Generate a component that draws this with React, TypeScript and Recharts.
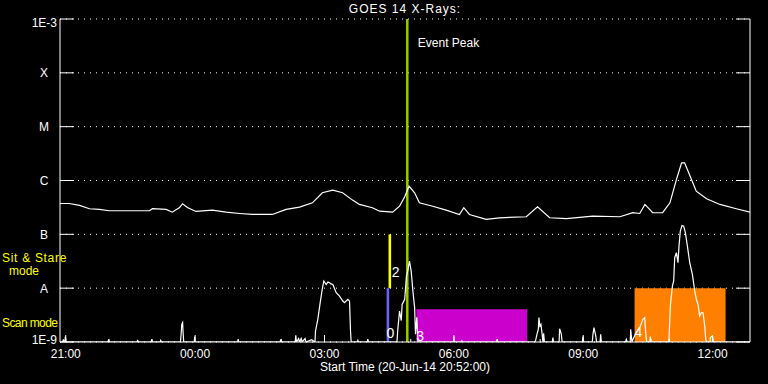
import { CartesianGrid, ComposedChart, Line, ReferenceArea, ReferenceLine, XAxis, YAxis } from 'recharts';

// time axis: hours after 21:00 on 20-Jun-14 (plot starts 20:52)
const timeDomain: [number, number] = [-8 / 60, 16 - 8 / 60];
const hourTicks = [0, 1, 2, 3, 4, 5, 6, 7, 8, 9, 10, 11, 12, 13, 14, 15];

const decadeTicks = [1e-9, 1e-8, 1e-7, 1e-6, 1e-5, 1e-4, 1e-3];
const decadeLabels = ['1E-9', 'A', 'B', 'C', 'M', 'X', '1E-3'];

// 1-8 A channel [hours, W/m^2]
const longChannel: [number, number][] = [
  [-0.133, 3.74e-7], [0.08, 3.74e-7], [0.32, 3.44e-7], [0.55, 2.99e-7], [0.78, 2.9e-7],
  [1.01, 2.74e-7], [1.4, 2.74e-7], [1.94, 2.74e-7], [2.01, 2.99e-7], [2.33, 2.9e-7],
  [2.47, 2.58e-7], [2.64, 3.16e-7], [2.71, 3.7e-7], [2.82, 3.16e-7], [3.02, 2.66e-7],
  [3.4, 2.81e-7], [3.72, 2.58e-7], [4.03, 2.44e-7], [4.33, 2.34e-7], [4.79, 2.34e-7],
  [5.11, 2.9e-7], [5.42, 3.2e-7], [5.72, 3.85e-7], [5.95, 5.92e-7], [6.19, 6.61e-7],
  [6.42, 5.92e-7], [6.65, 4.32e-7], [6.81, 3.6e-7], [7.11, 3.12e-7], [7.28, 2.69e-7],
  [7.58, 2.58e-7], [7.74, 3.33e-7], [7.86, 4.99e-7], [7.96, 7.83e-7], [8.09, 5.92e-7],
  [8.2, 3.85e-7], [8.51, 3.33e-7], [8.82, 2.81e-7], [9.13, 2.34e-7], [9.23, 3.12e-7],
  [9.36, 2.34e-7], [9.75, 1.89e-7], [10.06, 2.03e-7], [10.68, 2.12e-7], [10.94, 3.25e-7],
  [11.22, 2.03e-7], [11.61, 1.95e-7], [12.22, 2.18e-7], [12.85, 2.12e-7], [13.15, 2.52e-7],
  [13.31, 2.44e-7], [13.43, 3.59e-7], [13.61, 2.52e-7], [13.84, 2.52e-7], [14.01, 3.85e-7],
  [14.16, 1.04e-6], [14.28, 2.13e-6], [14.35, 2.13e-6], [14.51, 1.04e-6], [14.62, 6.32e-7],
  [14.86, 4.57e-7], [15.17, 3.59e-7], [15.55, 2.99e-7], [15.87, 2.58e-7],
];

// 0.5-4 A channel, mostly below 1E-9
const shortChannel: [number, number][] = [
  [-0.133, 1e-9], [-0.07, 1e-9], [-0.056, 1.12e-9], [-0.04, 1e-9], [-0.02, 1e-9], [-0.009, 1.26e-9], [0.01, 1e-9],
  [0.98, 1e-9], [0.995, 1.12e-9], [1.01, 1e-9], [1.65, 1e-9], [1.668, 1.07e-9], [1.69, 1e-9],
  [1.98, 1e-9], [1.993, 1.12e-9], [2.01, 1e-9], [2.19, 1e-9], [2.202, 1.07e-9], [2.22, 1e-9],
  [2.66, 1e-9], [2.675, 1.39e-9], [2.69, 2.13e-9], [2.71, 2.29e-9], [2.72, 1.53e-9], [2.735, 1e-9],
  [2.98, 1e-9], [2.991, 1.26e-9], [3.0, 1e-9], [3.99, 1e-9], [3.998, 1.12e-9], [4.01, 1e-9],
  [4.97, 1e-9], [4.986, 1.12e-9], [5.0, 1e-9], [5.32, 1e-9], [5.334, 1.33e-9], [5.35, 1e-9],
  [5.4, 1.16e-9], [5.42, 1e-9], [5.46, 1.16e-9], [5.48, 1e-9], [5.55, 1.16e-9], [5.57, 1e-9],
  [5.7, 1.1e-9], [5.78, 1e-9], [5.791, 1.6e-9], [5.845, 2.64e-9], [5.9, 5.38e-9], [5.947, 9.5e-9],
  [5.984, 1.36e-8], [6.039, 1.17e-8], [6.08, 1.3e-8], [6.116, 1.26e-8], [6.15, 1.2e-8], [6.193, 1.17e-8],
  [6.271, 8.26e-9], [6.348, 7.13e-9], [6.425, 5.77e-9], [6.464, 5.38e-9], [6.541, 6.19e-9], [6.58, 5.77e-9],
  [6.603, 1.6e-9], [6.619, 1e-9], [6.76, 1e-9], [6.773, 1.07e-9], [6.79, 1e-9], [6.99, 1e-9], [7.005, 1.12e-9], [7.02, 1e-9],
  [7.68, 1e-9], [7.7, 1.72e-9], [7.74, 3.76e-9], [7.78, 2.5e-9], [7.8, 5.0e-9], [7.86, 6.19e-9], [7.9, 1.67e-8],
  [7.93, 2.07e-8], [7.97, 3.18e-8], [8.01, 2.07e-8], [8.05, 8.83e-9], [8.09, 4.35e-9], [8.11, 1.39e-9],
  [8.14, 2.87e-9], [8.17, 1e-9], [8.99, 1e-9], [9.0, 1.26e-9], [9.01, 1e-9], [9.18, 1e-9], [9.186, 1.05e-9], [9.2, 1e-9],
  [9.99, 1e-9], [10.007, 1.12e-9], [10.02, 1e-9], [10.88, 1e-9], [10.896, 1.07e-9], [10.926, 1.39e-9],
  [10.958, 1.72e-9], [10.972, 2.84e-9], [10.995, 1.98e-9], [11.019, 2.13e-9], [11.042, 1.49e-9], [11.065, 1e-9],
  [11.081, 1.45e-9], [11.1, 1e-9], [11.28, 1e-9], [11.297, 1.21e-9], [11.31, 1e-9], [11.44, 1e-9],
  [11.452, 1.77e-9], [11.492, 1.39e-9], [11.51, 1e-9], [11.98, 1e-9], [11.993, 1.26e-9], [12.01, 1e-9],
  [12.21, 1e-9], [12.225, 1.39e-9], [12.248, 1.85e-9], [12.288, 1.33e-9], [12.31, 1e-9], [12.39, 1e-9],
  [12.404, 1.39e-9], [12.42, 1e-9], [12.98, 1e-9], [13.0, 1.12e-9], [13.02, 1e-9], [13.09, 1e-9],
  [13.1, 1.72e-9], [13.13, 1e-9], [13.17, 1.2e-9], [13.23, 1.49e-9], [13.309, 1.85e-9], [13.385, 2.64e-9],
  [13.425, 2.84e-9], [13.448, 1.49e-9], [13.47, 1e-9], [13.54, 1e-9], [13.557, 1.26e-9], [13.58, 1e-9],
  [13.97, 1e-9], [13.988, 1.12e-9], [14.021, 4.8e-9], [14.067, 1.09e-8], [14.097, 1.36e-8], [14.121, 3.68e-8],
  [14.16, 4.56e-8], [14.197, 2.97e-8], [14.22, 6.04e-8], [14.251, 1.15e-7], [14.29, 1.46e-7], [14.329, 1.42e-7],
  [14.369, 1.07e-7], [14.415, 6.04e-8], [14.469, 2.97e-8], [14.531, 1.8e-8], [14.585, 8.83e-9], [14.624, 6.19e-9],
  [14.661, 5.0e-9], [14.7, 3.03e-9], [14.74, 3.51e-9], [14.777, 3.5e-9], [14.817, 1.98e-9], [14.84, 1.12e-9],
  [14.86, 1e-9], [14.94, 1e-9], [14.949, 1.21e-9], [14.995, 1.29e-9], [15.02, 1e-9], [15.867, 1e-9],
];

const eventPeak = 7.92;

// observing blocks: id, start/end hours, flux bottom/top
const modeBlocks = [
  { id: '0', x1: 7.44, x2: 7.5, y1: 1e-9, y2: 1e-8 },
  { id: '2', x1: 7.485, x2: 7.545, y1: 1e-8, y2: 1e-7 },
  { id: '3', x1: 8.13, x2: 10.7, y1: 1e-9, y2: 4.05e-9 },
  { id: '4', x1: 13.19, x2: 15.3, y1: 1e-9, y2: 1e-8 },
];

const blockColors: Record<string, string> = { '0': '#6464ff', '2': '#ffff00', '3': '#cc00cc', '4': '#ff8000' };

const FONT = '"Liberation Sans", Arial, sans-serif';
const WHITE = '#ffffff';

const longData = longChannel.map(([t, f]) => ({ t, f }));
const shortData = shortChannel.map(([t, f]) => ({ t, f }));

function hourLabel(h: number) {
  const hh = (21 + h) % 24;
  return `${String(hh).padStart(2, '0')}:00`;
}

function BottomTick(props: any) {
  const { x, y, payload } = props;
  const major = payload.value % 3 === 0;
  return (
    <g>
      <line x1={x} x2={x} y1={y} y2={y - (major ? 7 : 3)} stroke={WHITE} />
      {major && (
        <text x={x} y={y + 16} textAnchor="middle" fill={WHITE} fontSize={12} fontFamily={FONT}>
          {hourLabel(payload.value)}
        </text>
      )}
    </g>
  );
}

function TopTick(props: any) {
  const { x, y, payload } = props;
  const major = payload.value % 3 === 0;
  return <line x1={x} x2={x} y1={y} y2={y + (major ? 7 : 3)} stroke={WHITE} />;
}

function LeftTick(props: any) {
  const { x, y, payload } = props;
  const i = decadeTicks.findIndex((v) => Math.abs(Math.log10(v) - Math.log10(payload.value)) < 0.01);
  const label = decadeLabels[i] ?? '';
  const isPow = label.startsWith('1E');
  const dy = i === decadeTicks.length - 1 ? 8 : i === 0 ? 1.5 : 4.4;
  return (
    <g>
      <line x1={x} x2={x + 14} y1={y} y2={y} stroke={WHITE} />
      <text
        x={isPow ? x - 3 : x - 16}
        y={y + dy}
        textAnchor={isPow ? 'end' : 'middle'}
        fill={WHITE}
        fontSize={12}
        fontFamily={FONT}
      >
        {label}
      </text>
    </g>
  );
}

function RightTick(props: any) {
  const { x, y } = props;
  return <line x1={x - 14} x2={x} y1={y} y2={y} stroke={WHITE} />;
}

function blockLabel(id: string) {
  return (props: any) => {
    const vb = props.viewBox;
    if (!vb) return null;
    const bottom = vb.y + vb.height;
    let tx = vb.x;
    let ty = bottom - 4;
    if (id === '2') {
      tx = vb.x + vb.width + 0.5;
      ty = bottom - 11;
    } else if (id === '3') {
      ty = bottom - 1.5;
    } else if (id === '4') {
      ty = bottom - 5;
    }
    return (
      <text x={tx} y={ty} fill={WHITE} fontSize={14} fontFamily={FONT}>
        {id}
      </text>
    );
  };
}

function peakLabel(props: any) {
  const vb = props.viewBox;
  if (!vb) return null;
  return (
    <text x={vb.x + 10.5} y={vb.y + 27.5} fill={WHITE} fontSize={12} fontFamily={FONT}>
      Event Peak
    </text>
  );
}

const textBase: React.CSSProperties = {
  position: 'absolute',
  fontFamily: FONT,
  fontSize: 12,
  lineHeight: '14px',
  whiteSpace: 'nowrap',
};

export default function App() {
  return (
    <div style={{ position: 'relative', width: 768, height: 384, background: '#000' }}>
      <style>{'body{margin:0;background:#000}'}</style>
      <ComposedChart width={768} height={384} margin={{ top: 19, right: 0, bottom: 0, left: 0 }}>
        <CartesianGrid
          xAxisId="b"
          yAxisId="l"
          vertical={false}
          stroke={WHITE}
          strokeDasharray="1 5"
        />
        <XAxis
          xAxisId="b"
          type="number"
          dataKey="t"
          domain={timeDomain}
          allowDataOverflow
          ticks={hourTicks}
          interval={0}
          height={42}
          tickSize={0}
          tickMargin={0}
          tickLine={false}
          axisLine={{ stroke: WHITE }}
          tick={(p: any) => <BottomTick {...p} />}
        />
        <XAxis
          xAxisId="top"
          orientation="top"
          type="number"
          dataKey="t"
          domain={timeDomain}
          allowDataOverflow
          ticks={hourTicks}
          interval={0}
          height={0}
          tickSize={0}
          tickMargin={0}
          tickLine={false}
          axisLine={{ stroke: WHITE }}
          tick={(p: any) => <TopTick {...p} />}
        />
        <YAxis
          yAxisId="l"
          type="number"
          scale="log"
          domain={[1e-9, 1e-3]}
          allowDataOverflow
          ticks={decadeTicks}
          interval={0}
          width={60}
          tickSize={0}
          tickMargin={0}
          tickLine={false}
          axisLine={{ stroke: WHITE }}
          tick={(p: any) => <LeftTick {...p} />}
        />
        <YAxis
          yAxisId="r"
          orientation="right"
          type="number"
          scale="log"
          domain={[1e-9, 1e-3]}
          allowDataOverflow
          ticks={decadeTicks}
          interval={0}
          width={18}
          tickSize={0}
          tickMargin={0}
          tickLine={false}
          axisLine={{ stroke: WHITE }}
          tick={(p: any) => <RightTick {...p} />}
        />
        {modeBlocks.map((b) => (
          <ReferenceArea
            key={b.id}
            xAxisId="b"
            yAxisId="l"
            x1={b.x1}
            x2={b.x2}
            y1={b.y1}
            y2={b.y2}
            fill={blockColors[b.id]}
            fillOpacity={1}
            stroke="none"
            ifOverflow="hidden"
            label={blockLabel(b.id)}
          />
        ))}
        <ReferenceLine
          xAxisId="b"
          yAxisId="l"
          x={eventPeak}
          stroke="#99cc00"
          strokeWidth={2.5}
          label={peakLabel}
        />
        <Line
          xAxisId="b"
          yAxisId="l"
          data={longData}
          dataKey="f"
          stroke={WHITE}
          strokeWidth={1.2}
          dot={false}
          activeDot={false}
          isAnimationActive={false}
        />
        <Line
          xAxisId="b"
          yAxisId="l"
          data={shortData}
          dataKey="f"
          stroke={WHITE}
          strokeWidth={1.2}
          dot={false}
          activeDot={false}
          isAnimationActive={false}
        />
      </ComposedChart>
      <div style={{ ...textBase, color: WHITE, left: 305, width: 200, top: 2, textAlign: 'center', letterSpacing: 1 }}>
        GOES 14 X-Rays:
      </div>
      <div style={{ ...textBase, color: WHITE, left: 255, width: 300, top: 360, textAlign: 'center' }}>
        Start Time (20-Jun-14 20:52:00)
      </div>
      <div style={{ ...textBase, color: '#ffff00', left: 2, top: 251, letterSpacing: 0.7 }}>Sit &amp; Stare</div>
      <div style={{ ...textBase, color: '#ffff00', left: 0, width: 48, top: 264, textAlign: 'center' }}>mode</div>
      <div style={{ ...textBase, color: '#ffff00', left: 2, top: 316, letterSpacing: -0.6 }}>Scan mode</div>
    </div>
  );
}
